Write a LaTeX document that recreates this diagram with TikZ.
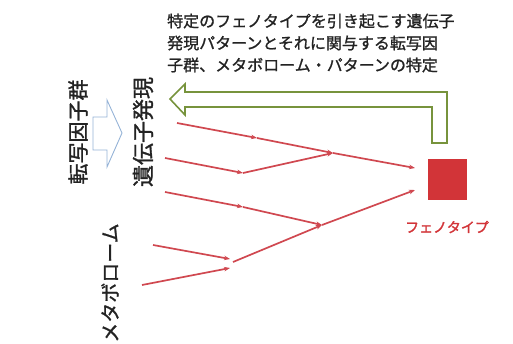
\documentclass[tikz,border=0pt]{standalone}
\usepackage{fontspec}
\setmainfont{Noto Sans CJK JP}
\newfontfamily\medfont[FakeBold=1.2]{Noto Sans CJK JP}
\newfontfamily\semifont[FakeBold=1.8]{Noto Sans CJK JP}
\usetikzlibrary{arrows.meta}
\definecolor{gline}{RGB}{119,147,60}
\definecolor{bline}{RGB}{149,179,215}
\definecolor{rline}{RGB}{208,72,80}
\definecolor{rbox}{RGB}{210,52,56}
\definecolor{txt}{RGB}{35,35,35}
\tikzset{
  redarrow/.style={draw=rline, line width=1.7pt, -{Stealth[length=6pt,width=4.5pt]}},
  vlabel/.style={rotate=90, inner sep=0, text=txt},
}
\begin{document}
\begin{tikzpicture}[x=1pt,y=-1pt]
\useasboundingbox (0,0) rectangle (513,344);
% title
\node[anchor=west, align=left, inner sep=0, text=txt,
      font=\medfont\fontsize{16}{22}\selectfont] (title) at (167,43)
  {特定のフェノタイプを引き起こす遺伝子\\発現パターンとそれに関与する転写因\\子群、メタボローム・パターンの特定};
% green feedback arrow
\draw[gline, line width=1.6pt, fill=white, line join=miter]
  (170,99) -- (185,84) -- (185,92) -- (447,92) -- (447,143) -- (432,143)
  -- (432,107) -- (185,107) -- (185,115) -- cycle;
% blue block arrow
\draw[bline, line width=0.9pt, fill=white]
  (93,117) -- (107,117) -- (107,100) -- (122,133) -- (107,167) -- (107,150)
  -- (93,150) -- cycle;
% vertical labels
\node[vlabel, font=\medfont\fontsize{21}{21}\selectfont] (tf) at (78,132) {転写因子群};
\node[vlabel, font=\medfont\fontsize{22}{22}\selectfont] (ge) at (143,132) {遺伝子発現};
\node[vlabel, font=\medfont\fontsize{20}{20}\selectfont] (mb) at (110,283) {メタボローム};
% phenotype box
\node[fill=rbox, minimum width=39pt, minimum height=41pt, inner sep=0] (pheno) at (447.5,179.5) {};
\node[text=rbox, font=\semifont\fontsize{14}{14}\selectfont, inner sep=0] (plabel) at (447,227) {フェノタイプ};
% coordinates
\coordinate (a1) at (177,123);
\coordinate (j1) at (257,138);
\coordinate (j2) at (333,153);
\coordinate (p1) at (415,168);
\coordinate (b1) at (165,158);
\coordinate (j3) at (243,173);
\coordinate (c1) at (165,192);
\coordinate (j4) at (243,207);
\coordinate (j5) at (322,225);
\coordinate (d1) at (153,245);
\coordinate (e1) at (142,285);
\coordinate (j6a) at (230,259);
\coordinate (j6b) at (230,268);
\coordinate (j6) at (233,262);
\coordinate (p2) at (415,190);
% red arrows
\draw[redarrow] (a1) -- (j1);
\draw[redarrow] (j1) -- (j2);
\draw[redarrow] (j2) -- (p1);
\draw[redarrow] (b1) -- (j3);
\draw[redarrow] (j3) -- (j2);
\draw[redarrow] (c1) -- (j4);
\draw[redarrow] (j4) -- (j5);
\draw[redarrow] (d1) -- (j6a);
\draw[redarrow] (e1) -- (j6b);
\draw[redarrow] (j6) -- (j5);
\draw[redarrow] (j5) -- (p2);
\end{tikzpicture}
\end{document}
